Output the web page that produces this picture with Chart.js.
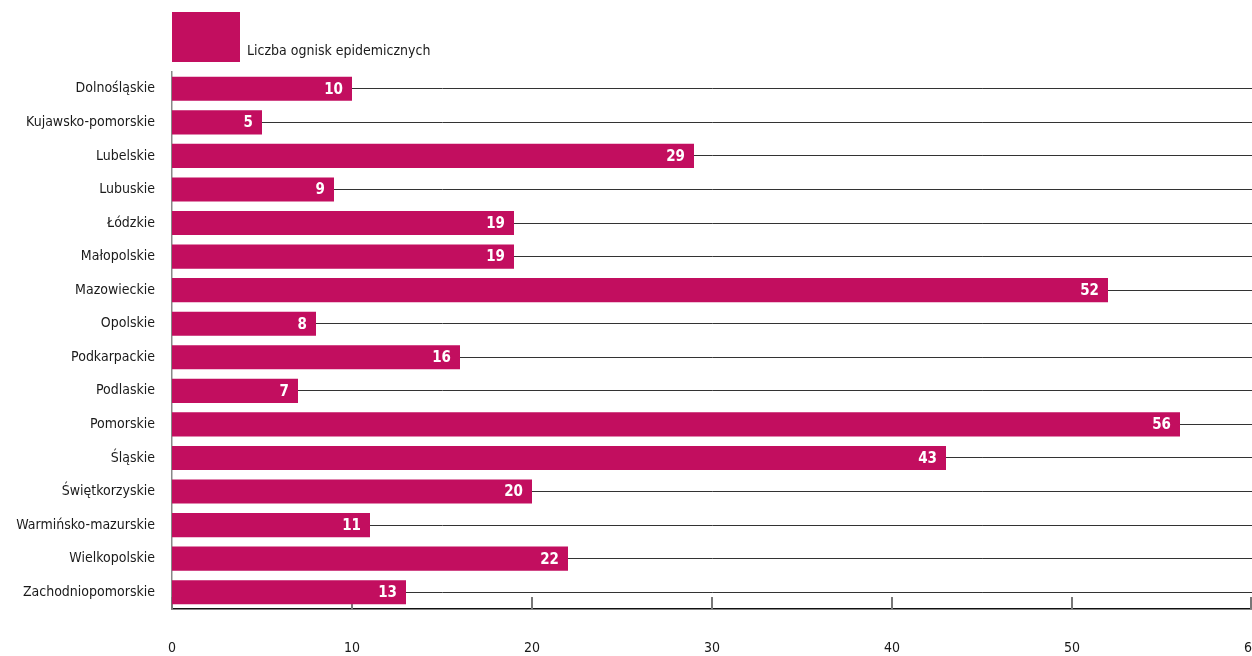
<!DOCTYPE html>
<html>
<head>
<meta charset="utf-8">
<script src="https://cdn.jsdelivr.net/npm/chart.js@4/dist/chart.umd.min.js"></script>
<style>
  html, body { margin: 0; padding: 0; background: #fff; overflow: hidden; }
  #wrap { position: relative; width: 1252px; height: 656px; }
  #legend { position: absolute; left: 172px; top: 12px; display: flex; align-items: flex-end;
    font-family: "Liberation Sans Narrow", "DejaVu Sans Condensed", sans-serif;
    font-size: 14px; color: #1a1a1a; }
  #legend .box { width: 68px; height: 50px; background: #c20e5f; }
  #legend span { margin-left: 7px; margin-bottom: 4px; }
</style>
</head>
<body>
<div id="wrap">
  <canvas id="c" width="1252" height="656"></canvas>
  <div id="legend"><div class="box"></div><span>Liczba ognisk epidemicznych</span></div>
</div>
<script>
const FONT = '"Liberation Sans Narrow", "DejaVu Sans Condensed", sans-serif';
const COLOR = '#c20e5f';

const regions = ['Dolnośląskie', 'Kujawsko-pomorskie', 'Lubelskie', 'Lubuskie', 'Łódzkie', 'Małopolskie',
  'Mazowieckie', 'Opolskie', 'Podkarpackie', 'Podlaskie', 'Pomorskie', 'Śląskie', 'Świętkorzyskie',
  'Warmińsko-mazurskie', 'Wielkopolskie', 'Zachodniopomorskie'];
const outbreaks = [10, 5, 29, 9, 19, 19, 52, 8, 16, 7, 56, 43, 20, 11, 22, 13];
const xTicks = [0, 10, 20, 30, 40, 50, 60];

// krótkie kreski podziałki od osi X w górę, pod słupkami
const tickMarks = {
  id: 'tickMarks',
  beforeDatasetsDraw(chart) {
    const { ctx, chartArea, scales: { x } } = chart;
    ctx.save();
    ctx.strokeStyle = '#777';
    ctx.lineWidth = 2;
    xTicks.forEach(v => {
      const px = Math.min(x.getPixelForValue(v), chartArea.right - 1);
      ctx.beginPath();
      ctx.moveTo(px, chartArea.bottom);
      ctx.lineTo(px, chartArea.bottom - 12);
      ctx.stroke();
    });
    ctx.restore();
  }
};

// wartości na końcu słupków
const barValues = {
  id: 'barValues',
  afterDatasetsDraw(chart) {
    const { ctx } = chart;
    const meta = chart.getDatasetMeta(0);
    ctx.save();
    ctx.fillStyle = '#fff';
    ctx.font = 'bold 15px ' + FONT;
    ctx.textAlign = 'right';
    ctx.textBaseline = 'middle';
    meta.data.forEach((bar, i) => {
      ctx.fillText(String(outbreaks[i]), bar.x - 9, bar.y + 1);
    });
    ctx.restore();
  }
};

new Chart(document.getElementById('c'), {
  type: 'bar',
  data: {
    labels: regions,
    datasets: [{
      label: 'Liczba ognisk epidemicznych',
      data: outbreaks,
      backgroundColor: COLOR,
      barPercentage: 0.72,
      categoryPercentage: 1,
    }],
  },
  options: {
    indexAxis: 'y',
    responsive: false,
    animation: false,
    layout: { padding: { top: 72, right: 0, left: 0, bottom: 0 } },
    plugins: { legend: { display: false }, tooltip: { enabled: false } },
    scales: {
      x: {
        min: 0, max: 60,
        afterBuildTicks: s => { s.ticks = xTicks.map(v => ({ value: v })); },
        afterFit: s => { s.height = 47; s.paddingLeft = 0; s.paddingRight = 0; },
        grid: { display: false, drawTicks: false },
        border: { display: true, color: '#111', width: 1.5 },
        ticks: { color: '#1a1a1a', font: { family: FONT, size: 14 }, padding: 31, maxRotation: 0 },
      },
      y: {
        afterFit: s => { s.width = 172; },
        grid: { offset: false, color: '#333', lineWidth: 1, drawTicks: false },
        border: { display: true, color: '#888', width: 1.5 },
        ticks: { color: '#1a1a1a', font: { family: FONT, size: 14 }, padding: 17 },
      },
    },
  },
  plugins: [tickMarks, barValues],
});
</script>
</body>
</html>
